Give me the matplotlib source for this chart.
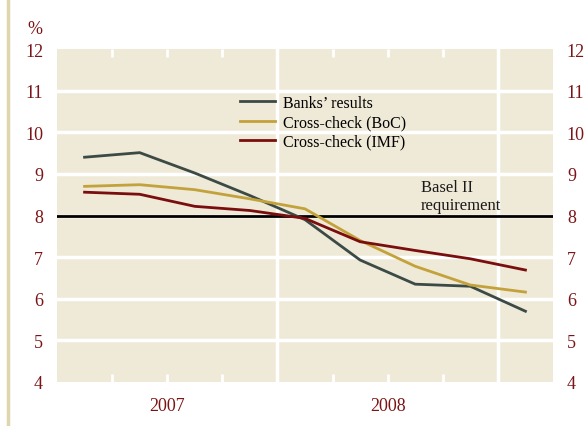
import matplotlib
matplotlib.use('Agg')
import matplotlib.pyplot as plt
import matplotlib.transforms as mtransforms
from matplotlib.lines import Line2D

# Quarterly capital ratios, Q1 2007 to Q1 2009
quarters = [0.5, 1.5, 2.5, 3.5, 4.5, 5.5, 6.5, 7.5, 8.5]
banks = [9.40, 9.51, 9.02, 8.48, 7.90, 6.93, 6.35, 6.30, 5.70]
boc = [8.70, 8.74, 8.62, 8.40, 8.16, 7.40, 6.78, 6.33, 6.16]
imf = [8.56, 8.51, 8.22, 8.12, 7.93, 7.37, 7.16, 6.96, 6.69]
basel = 8
years = ['2007', '2008']
year_pos = [2, 6]
yticks = [4, 5, 6, 7, 8, 9, 10, 11, 12]

BG = '#efe9d7'
RED = '#7b1416'

plt.rcParams['font.family'] = ['Liberation Serif', 'DejaVu Serif']

fig = plt.figure(figsize=(5.87, 4.27), dpi=100)
ax = fig.add_axes([57/587, 44/427, 496/587, 333/427])
ax.set_facecolor(BG)
for s in ax.spines.values():
    s.set_visible(False)

ax.set_xlim(0, 9)
ax.set_ylim(4, 12)

# white grid
for v in yticks[1:-1]:
    ax.axhline(v, color='white', lw=2.5, zorder=1)
for v in [4, 8]:
    ax.axvline(v, color='white', lw=2.5, zorder=1)

ax.axhline(basel, color='black', lw=2, zorder=2)

ax.plot(quarters, banks, color='#3c4a46', lw=2, label="Banks\u2019 results", zorder=3)
ax.plot(quarters, boc, color='#c3a23c', lw=2, label='Cross-check (BoC)', zorder=3)
ax.plot(quarters, imf, color='#7a0d0d', lw=2, label='Cross-check (IMF)', zorder=3)

ax.text(6.6, 8.07, 'Basel II\nrequirement', fontsize=12, color='#1a1a1a',
        ha='left', va='bottom', linespacing=1.1)

# y axis both sides
ax.set_yticks(yticks)
ax.tick_params(axis='y', which='both', length=0, labelsize=13, labelcolor=RED,
               left=True, right=True, labelleft=True, labelright=True, pad=10)

# quarter ticks, white, inside top and bottom
ax.set_xticks([1, 2, 3, 5, 6, 7])
ax.set_xticklabels([])
ax.tick_params(axis='x', direction='in', length=6, width=2, color='white',
               top=True, bottom=True)
trans = mtransforms.blended_transform_factory(ax.transData, ax.transAxes)
for p, y in zip(year_pos, years):
    ax.text(p, -0.072, y, transform=trans, ha='center', va='center',
            fontsize=13, color=RED)

fig.text(35/587, 1 - 29/427, '%', ha='center', va='center', fontsize=13, color=RED)

# left decorative strip
fig.add_artist(Line2D([7.5/587, 7.5/587], [0, 1], color='#e0d6ab', lw=2.5,
                      transform=fig.transFigure))

ax.legend(loc='upper left', bbox_to_anchor=(0.369, 0.862), frameon=False,
          fontsize=11.5, handlelength=2.2, handletextpad=0.5, labelspacing=0.2,
          borderaxespad=0, borderpad=0)

fig.savefig('out.png', dpi=100, facecolor='white')
